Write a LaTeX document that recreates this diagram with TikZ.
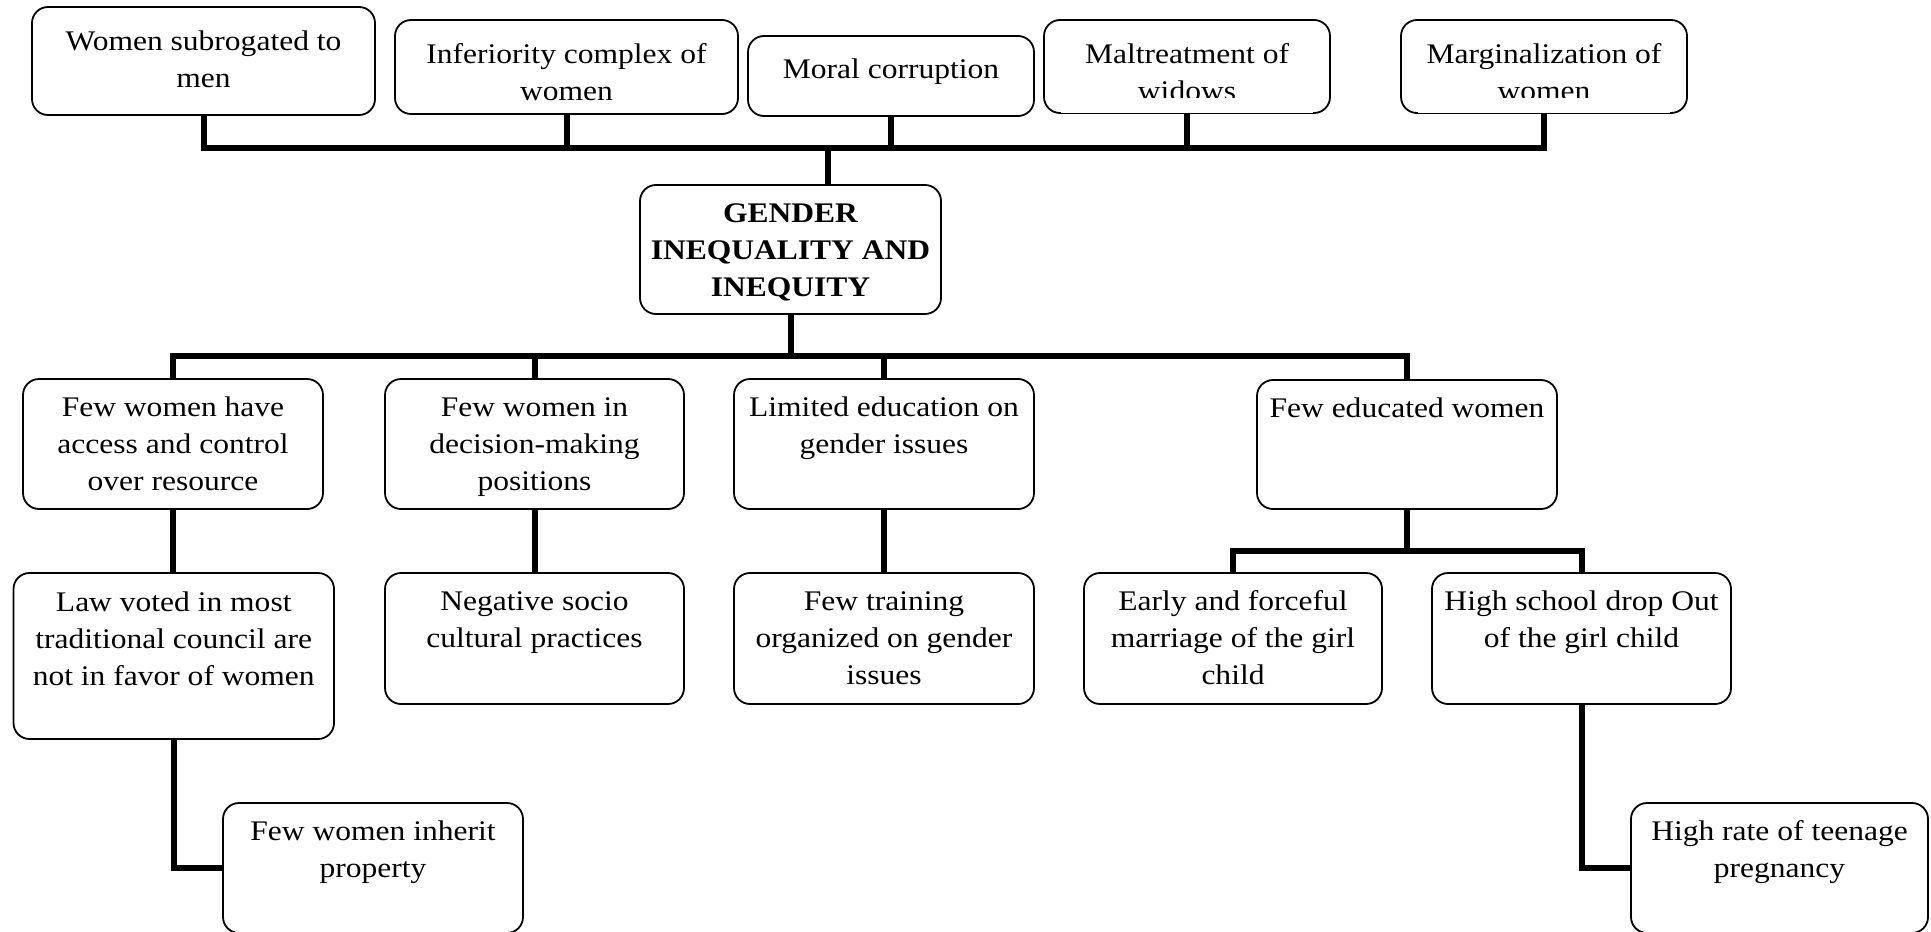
\documentclass[tikz,border=0pt]{standalone}
\usepackage{fontspec}
\setmainfont{Liberation Serif}[FakeStretch=1.11]
\usetikzlibrary{calc}

% one drawing unit = 0.5pt
\newdimen\px \px=0.5pt

% \bxt{name}{left}{top}{right}{bottom}{first baseline from top}{text}
\newcommand\bxt[7]{%
  \node[bx] (#1) at ({(#2+#4)/2},{(#3+#5)/2})
    {\parbox[c][\dimexpr#5\px-#3\px\relax][t]{\dimexpr#4\px-#2\px\relax}%
      {\centering\rule{0pt}{#6\px}#7\par}};}

\begin{document}
\begin{tikzpicture}[x=0.5pt,y=-0.5pt,
  bx/.style={draw, line width=0.9pt, rounded corners=8pt, inner sep=0pt,
             font=\fontsize{14.2}{18.5}\selectfont},
  conn/.style={line width=3pt, line join=miter}]
\clip (0,0) rectangle (1931,931);

% causes
\bxt{t1}{32}{7}{375}{115}{44}{Women subrogated to\\men}
\bxt{t2}{395}{20}{738}{114}{44}{Inferiority complex of\\women}
\bxt{t3}{748}{36}{1034}{116}{43}{Moral corruption}
\bxt{t4}{1044}{20}{1330}{113}{44}{Maltreatment of\\widows}
\bxt{t5}{1401}{20}{1687}{113}{44}{Marginalization of\\women}

% core problem
\bxt{g}{640}{185}{941}{314}{37}{\bfseries GENDER\\INEQUALITY AND\\INEQUITY}

% effects
\bxt{a}{23}{379}{323}{509}{37}{Few women have\\access and control\\over resource}
\bxt{b}{385}{379}{684}{509}{37}{Few women in\\decision-making\\positions}
\bxt{c}{734}{379}{1034}{509}{37}{Limited education on\\gender issues}
\bxt{d}{1257}{380}{1557}{509}{37}{Few educated women}

\bxt{a2}{13.5}{573}{334}{739}{38}{Law voted in most\\traditional council are\\not in favor of women}
\bxt{b2}{385}{573}{684}{704}{37}{Negative socio\\cultural practices}
\bxt{c2}{734}{573}{1034}{704}{37}{Few training\\organized on gender\\issues}
\bxt{d2}{1084}{573}{1382}{704}{37}{Early and forceful\\marriage of the girl\\child}
\bxt{e2}{1432}{573}{1731}{704}{37}{High school drop Out\\of the girl child}

\bxt{a3}{223}{803}{523}{933}{37}{Few women inherit\\property}
\bxt{e3}{1631}{803}{1928}{933}{37}{High rate of teenage\\pregnancy}

% the second text line of these two boxes is cut short
\fill[white] ($(t4.south west)+(18,-1.2)$) rectangle ($(t4.south east)+(-18,-15.5)$);
\fill[white] ($(t5.south west)+(18,-1.2)$) rectangle ($(t5.south east)+(-18,-15.5)$);

% bus levels
\coordinate (bus1) at (0,147.5);
\coordinate (bus2) at (0,355.5);
\coordinate (bus3) at (0,550.5);
\coordinate (gin) at ($(g.north)+(37.5,0)$);

% causes -> core problem
\draw[conn] (t1.south) -- (t1.south |- bus1) -- (t5.south |- bus1) -- (t5.south);
\foreach \n in {t2,t3,t4} \draw[conn] (\n.south) -- (\n.south |- bus1);
\draw[conn] (gin |- bus1) -- (gin);

% core problem -> effects
\draw[conn] (a.north) -- (a.north |- bus2) -- (d.north |- bus2) -- (d.north);
\foreach \n in {b,c} \draw[conn] (\n.north) -- (\n.north |- bus2);
\draw[conn] (g.south) -- (g.south |- bus2);

\draw[conn] (a.south) -- (a.south |- a2.north);
\draw[conn] (b.south) -- (b2.north);
\draw[conn] (c.south) -- (c2.north);

\draw[conn] (d.south) -- (d.south |- bus3);
\draw[conn] (d2.north) -- (d2.north |- bus3) -- (e2.north |- bus3) -- (e2.north);

\draw[conn] (a2.south) |- (a3.west);
\draw[conn] (e2.south) |- (e3.west);
\end{tikzpicture}
\end{document}
